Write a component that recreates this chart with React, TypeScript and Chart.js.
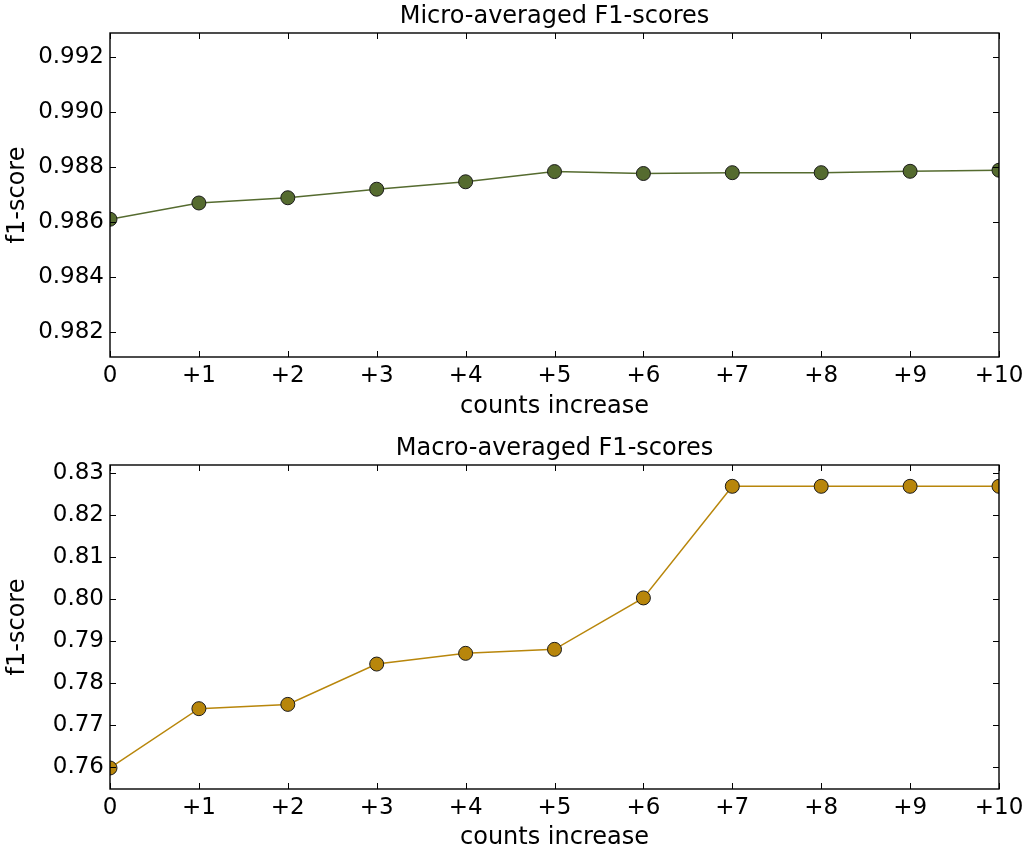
import React, { useEffect, useRef } from "react";
import { Chart, registerables } from "chart.js";

Chart.register(...registerables);

const categories = ["0", "+1", "+2", "+3", "+4", "+5", "+6", "+7", "+8", "+9", "+10"];

const microScores = [0.98611, 0.9867, 0.98689, 0.9872, 0.98747, 0.98784, 0.98777, 0.9878, 0.9878, 0.98785, 0.98789];
const microTicks = [0.982, 0.984, 0.986, 0.988, 0.99, 0.992];
const microTickLabels = ["0.982", "0.984", "0.986", "0.988", "0.990", "0.992"];
const microRange = [0.98111, 0.99287];

const macroScores = [0.75969, 0.77381, 0.77483, 0.78443, 0.78698, 0.78793, 0.80017, 0.82674, 0.82674, 0.82674, 0.82674];
const macroTicks = [0.76, 0.77, 0.78, 0.79, 0.8, 0.81, 0.82, 0.83];
const macroTickLabels = ["0.76", "0.77", "0.78", "0.79", "0.80", "0.81", "0.82", "0.83"];
const macroRange = [0.75469, 0.83181];

const FONT = "'DejaVu Sans', sans-serif";

const framePlugin = {
  id: "mplFrame",
  afterDatasetsDraw(chart: any) {
    const { ctx, chartArea } = chart;
    const { left, right, top, bottom } = chartArea;
    const x = chart.scales.x;
    const y = chart.scales.y;
    const tl = 6;
    ctx.save();
    ctx.strokeStyle = "#000";
    ctx.lineWidth = 1;
    ctx.beginPath();
    x.ticks.forEach((_t: any, i: number) => {
      const px = Math.round(x.getPixelForTick(i)) + 0.5;
      ctx.moveTo(px, bottom);
      ctx.lineTo(px, bottom - tl);
      ctx.moveTo(px, top);
      ctx.lineTo(px, top + tl);
    });
    y.ticks.forEach((t: any) => {
      const py = Math.round(y.getPixelForValue(t.value)) + 0.5;
      ctx.moveTo(left, py);
      ctx.lineTo(left + tl, py);
      ctx.moveTo(right, py);
      ctx.lineTo(right - tl, py);
    });
    ctx.stroke();
    ctx.lineWidth = 1.4;
    ctx.strokeRect(left, top, right - left, bottom - top);
    ctx.restore();
  },
};

type PanelProps = {
  title: string;
  values: number[];
  color: string;
  ticks: number[];
  tickLabels: string[];
  range: number[];
  offsetTop: number;
  height: number;
  titleBottomPad: number;
};

function Panel(p: PanelProps) {
  const ref = useRef<HTMLCanvasElement | null>(null);
  useEffect(() => {
    if (!ref.current) return;
    const chart = new Chart(ref.current, {
      type: "line",
      data: {
        labels: categories,
        datasets: [
          {
            data: p.values,
            borderColor: p.color,
            backgroundColor: p.color,
            borderWidth: 1.5,
            pointRadius: 7,
            pointHoverRadius: 7,
            pointBackgroundColor: p.color,
            pointBorderColor: "#1a1a1a",
            pointBorderWidth: 1,
            tension: 0,
            clip: 0,
          } as any,
        ],
      },
      options: {
        animation: false,
        responsive: false,
        devicePixelRatio: 1,
        events: [],
        layout: { padding: { left: 0, right: 32, top: 0, bottom: 0 } },
        plugins: {
          legend: { display: false },
          tooltip: { enabled: false },
          title: { display: false },
        },
        scales: {
          x: {
            type: "category",
            position: "bottom",
            offset: false,
            grid: { display: false, drawTicks: false },
            border: { display: false },
            ticks: {
              color: "#000",
              font: { family: FONT, size: 23 },
              padding: 5,
              maxRotation: 0,
              autoSkip: false,
            },
            title: {
              display: true,
              text: "counts increase",
              color: "#000",
              font: { family: FONT, size: 24 },
              padding: { top: 0, bottom: p.titleBottomPad },
            },
            afterFit: (s: any) => {
              s.height = p.height - 357;
            },
          },
          xTop: {
            type: "category",
            position: "top",
            grid: { display: false, drawTicks: false },
            border: { display: false },
            ticks: { display: false },
            title: {
              display: true,
              text: p.title,
              color: "#000",
              font: { family: FONT, size: 24 },
              padding: { top: 2.6, bottom: 0 },
            },
            afterFit: (s: any) => {
              s.height = 33;
            },
          },
          y: {
            type: "linear",
            position: "left",
            min: p.range[0],
            max: p.range[1],
            grid: { display: false, drawTicks: false },
            border: { display: false },
            afterBuildTicks: (s: any) => {
              s.ticks = p.ticks.map((v) => ({ value: v }));
            },
            ticks: {
              color: "#000",
              font: { family: FONT, size: 23 },
              padding: 6,
              callback: (v: any) => {
                const i = p.ticks.findIndex((t) => Math.abs(t - Number(v)) < 1e-9);
                return i >= 0 ? p.tickLabels[i] : "";
              },
            },
            title: {
              display: true,
              text: "f1-score",
              color: "#000",
              font: { family: FONT, size: 24 },
              padding: { top: 3, bottom: 0 },
            },
            afterFit: (s: any) => {
              s.width = 110;
            },
          },
        },
      } as any,
      plugins: [framePlugin],
    });
    return () => chart.destroy();
  }, []);
  return (
    <div style={{ position: "absolute", left: 0, top: p.offsetTop, width: 1031, height: p.height }}>
      <canvas ref={ref} width={1031} height={p.height} style={{ width: 1031, height: p.height, display: "block" }} />
    </div>
  );
}

export default function App() {
  return (
    <div style={{ position: "absolute", left: 0, top: 0, width: 1031, height: 850, background: "#fff" }}>
      <Panel
        title="Micro-averaged F1-scores"
        values={microScores}
        color="#556B2F"
        ticks={microTicks}
        tickLabels={microTickLabels}
        range={microRange}
        offsetTop={0}
        height={425}
        titleBottomPad={4}
      />
      <Panel
        title="Macro-averaged F1-scores"
        values={macroScores}
        color="#B8860B"
        ticks={macroTicks}
        tickLabels={macroTickLabels}
        range={macroRange}
        offsetTop={432}
        height={418}
        titleBottomPad={-2}
      />
    </div>
  );
}
